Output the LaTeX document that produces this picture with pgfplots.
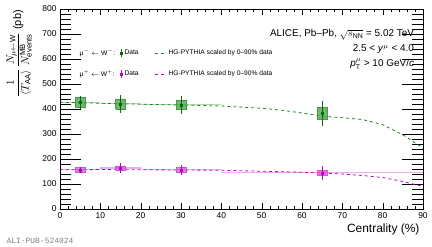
\documentclass[border=0pt]{standalone}
\usepackage{pgfplots}
\pgfplotsset{compat=1.18}
\usepackage{fontspec}
\setmainfont{Liberation Sans}
\setmonofont{Liberation Mono}
\usetikzlibrary{calc}
\definecolor{gdat}{RGB}{0,110,0}
\definecolor{gbox}{RGB}{70,155,70}
\definecolor{gline}{RGB}{175,218,175}
\definecolor{gmod}{RGB}{30,130,30}
\definecolor{mdat}{RGB}{190,0,190}
\definecolor{mbox}{RGB}{205,90,205}
\definecolor{mline}{RGB}{232,175,232}
\begin{document}
\begin{tikzpicture}
\useasboundingbox (-60bp,-38bp) rectangle (372bp,209bp);
\begin{axis}[name=ax, scale only axis, width=363bp, height=200bp,
  xmin=0, xmax=90, ymin=0, ymax=800,
  xtick=\empty, ytick distance=100,
  minor y tick num=4,
  tick align=inside,
  major tick length=21bp, minor tick length=11bp,
  tick style={black},
  tick label style={font=\fontsize{8.5}{10}\selectfont},
  /pgf/number format/assume math mode=true,
  legend style={draw=none, fill=none, at={(rel axis cs:0.04,0.82)}, anchor=north west,
    font=\fontsize{6.7}{8}\selectfont, row sep=9bp,
    /tikz/column 2/.style={column sep=3bp},
    /tikz/column 4/.style={column sep=14bp}},
  legend columns=3, legend cell align=left,
]
% bin-width lines
\addplot[gline, line width=1.5pt, forget plot] coordinates {(0,427)(10,427)};
\addplot[gline, line width=1.5pt, forget plot] coordinates {(10,421)(20,421)};
\addplot[gline, line width=1.5pt, forget plot] coordinates {(20,417)(40,417)};
\addplot[mline, line width=1.5pt, forget plot] coordinates {(0,157)(10,157)};
\addplot[mline, line width=1.5pt, forget plot] coordinates {(10,164)(20,164)};
\addplot[mline, line width=1.5pt, forget plot] coordinates {(20,157)(40,157)};
\addplot[mline, line width=1.5pt, forget plot] coordinates {(40,145)(90,145)};
% models
\addplot[gmod, dashed, line width=0.8pt, forget plot] coordinates {
(0,427)(5,425)(10,423)(15,421)(20,419)(30,416)(40,412)(50,403)(55,395)(60,384)(65,371)(70,365)(75,358)(80,337)(85,297)(90,244)};
\addplot[mdat, dashed, line width=0.8pt, forget plot] coordinates {
(0,157)(5,157)(10,158)(15,157)(20,157)(30,156)(40,155)(50,151)(60,147)(65,144)(70,140)(75,134)(80,126)(85,110)(90,90)};
% systematic boxes
\addplot[fill=gbox, fill opacity=0.75, draw=gbox, forget plot] coordinates {(3.8,407)(6.2,407)(6.2,447)(3.8,447)(3.8,407)};
\addplot[fill=gbox, fill opacity=0.75, draw=gbox, forget plot] coordinates {(13.8,401)(16.2,401)(16.2,441)(13.8,441)(13.8,401)};
\addplot[fill=gbox, fill opacity=0.75, draw=gbox, forget plot] coordinates {(28.8,398)(31.2,398)(31.2,436)(28.8,436)(28.8,398)};
\addplot[fill=gbox, fill opacity=0.75, draw=gbox, forget plot] coordinates {(63.8,361)(66.2,361)(66.2,407)(63.8,407)(63.8,361)};
\addplot[fill=mbox, fill opacity=0.75, draw=mbox, forget plot] coordinates {(3.8,148)(6.2,148)(6.2,166)(3.8,166)(3.8,148)};
\addplot[fill=mbox, fill opacity=0.75, draw=mbox, forget plot] coordinates {(13.8,155)(16.2,155)(16.2,173)(13.8,173)(13.8,155)};
\addplot[fill=mbox, fill opacity=0.75, draw=mbox, forget plot] coordinates {(28.8,148)(31.2,148)(31.2,166)(28.8,166)(28.8,148)};
\addplot[fill=mbox, fill opacity=0.75, draw=mbox, forget plot] coordinates {(63.8,135)(66.2,135)(66.2,155)(63.8,155)(63.8,135)};
% data
\addplot[gdat, only marks, mark=square*, mark size=1.0pt, forget plot,
  error bars/.cd, y dir=both, y explicit, error mark=none, error bar style={line width=0.8pt}]
  coordinates {(5,427) +- (0,25) (15,421) +- (0,36) (30,417) +- (0,35) (65,384) +- (0,50)};
\addplot[mdat, only marks, mark=square*, mark size=1.0pt, forget plot,
  error bars/.cd, y dir=both, y explicit, error mark=none, error bar style={line width=0.8pt}]
  coordinates {(5,157) +- (0,13) (15,164) +- (0,20) (30,157) +- (0,20) (65,145) +- (0,28)};
% legend
\addlegendimage{empty legend}
\addlegendentry{μ$^{-}$ ${\leftarrow}$ W$^{-}$:}
\addlegendimage{gdat, legend image code/.code={\draw[line width=0.7pt] (0.1cm,-0.13cm)--(0.1cm,0.13cm); \fill (0.065cm,-0.035cm) rectangle (0.135cm,0.035cm);}}
\addlegendentry{Data}
\addlegendimage{gmod, dashed, line width=0.6pt, legend image code/.code={\draw (0cm,0cm)--(0.4cm,0cm);}}
\addlegendentry{HG-PYTHIA scaled by 0--90\% data}
\addlegendimage{empty legend}
\addlegendentry{μ$^{+}$ ${\leftarrow}$ W$^{+}$:}
\addlegendimage{mdat, legend image code/.code={\draw[line width=0.7pt] (0.1cm,-0.13cm)--(0.1cm,0.13cm); \fill (0.065cm,-0.035cm) rectangle (0.135cm,0.035cm);}}
\addlegendentry{Data}
\addlegendimage{mdat, dashed, line width=0.6pt, legend image code/.code={\draw (0cm,0cm)--(0.4cm,0cm);}}
\addlegendentry{HG-PYTHIA scaled by 0--90\% data}
\node[anchor=north east, align=right, font=\fontsize{10}{15}\selectfont] at (rel axis cs:0.985,0.915)
  {ALICE, Pb--Pb, $\sqrt{s_{\mathrm{NN}}}$ = 5.02 TeV\\
   2.5 < \textit{y}$^{\mu}$ < 4.0\\
   \textit{p}$_{\mathrm{T}}^{\mu}$ > 10 GeV/\textit{c}};
\end{axis}
\begin{axis}[scale only axis, width=363bp, height=200bp,
  xmin=0, xmax=90, ymin=0, ymax=800,
  ytick=\empty, xtick distance=10, minor x tick num=4,
  tick align=inside,
  major tick length=6bp, minor tick length=3bp,
  tick style={black},
  tick label style={font=\fontsize{8.5}{10}\selectfont},
  /pgf/number format/assume math mode=true,
  xlabel={Centrality (\%)},
  xlabel style={at={(rel axis cs:1,0)}, anchor=north east, yshift=-11bp, font=\fontsize{12}{14}\selectfont},
]
\end{axis}
\node[rotate=90, anchor=south east, inner sep=0pt, font=\fontsize{11}{13}\selectfont] at (-28bp,199bp)
  {$\displaystyle\frac{1}{\langle T_{\mathrm{AA}}\rangle}\,\frac{N_{\mu\leftarrow\mathrm{W}}}{N^{\mathrm{MB}}_{\mathrm{events}}}$ (pb)};
\node[anchor=base west, font=\ttfamily\fontsize{8}{9}\selectfont, text=gray] at (-57bp,-34bp) {ALI-PUB-524024};
\end{tikzpicture}
\end{document}
